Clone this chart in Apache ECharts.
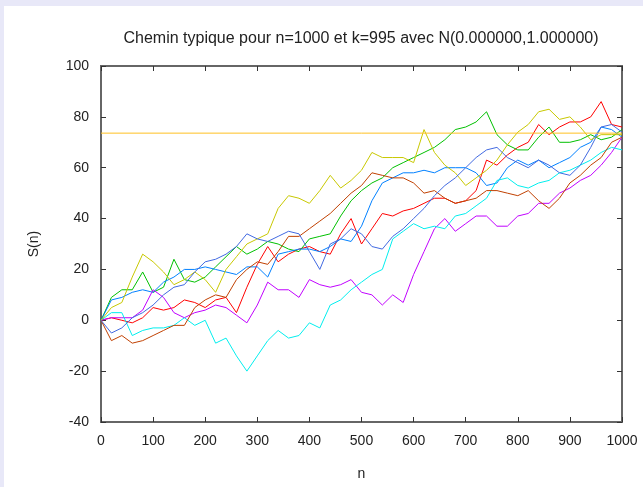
<!DOCTYPE html>
<html>
<head>
<meta charset="utf-8">
<script src="https://cdn.jsdelivr.net/npm/echarts@6/dist/echarts.min.js"></script>
<style>
  html, body { margin: 0; padding: 0; background: #e8e8f8; }
  #frame { position: absolute; left: 4px; top: 6px; width: 639px; height: 481px; background: #fff; }
  #chart { position: absolute; left: 0; top: 0; width: 643px; height: 487px; }
</style>
</head>
<body>
<div id="frame"></div>
<div id="chart"></div>
<script>
var steps = [];
for (var s = 0; s <= 1000; s += 20) steps.push(s);

var xTicks = [0, 100, 200, 300, 400, 500, 600, 700, 800, 900, 1000];
var yTicks = [-40, -20, 0, 20, 40, 60, 80, 100];

// S(n) every 20 steps
var redS = [0, 1, 0, -1, 1, 5, 4, 5, 8, 7, 5, 8, 9, 3, 13, 22, 29, 23, 26, 28, 29, 27, 26, 34, 40, 30, 36, 42, 41, 43, 44, 46, 48, 48, 46, 47, 51, 63, 61, 65, 68, 70, 77, 73, 76, 78, 78, 80, 86, 77, 76];
var greenS = [0, 9, 12, 12, 19, 11, 13, 24, 16, 15, 17, 21, 25, 29, 26, 28, 31, 30, 28, 27, 32, 33, 34, 41, 47, 51, 54, 56, 60, 62, 64, 66, 68, 71, 75, 76, 78, 82, 73, 69, 67, 67, 72, 76, 70, 70, 71, 73, 71, 72, 75];
var blueS = [0, 8, 9, 11, 12, 11, 15, 17, 20, 20, 21, 20, 19, 18, 21, 21, 17, 26, 27, 28, 28, 27, 29, 32, 31, 37, 47, 54, 56, 58, 58, 59, 58, 60, 60, 60, 58, 53, 54, 60, 63, 61, 63, 60, 62, 64, 68, 70, 76, 75, 72];
var purpleS = [0, 1, 1, 1, 4, 12, 9, 3, 1, 3, 4, 6, 5, 2, -1, 6, 15, 12, 12, 9, 16, 14, 13, 14, 16, 11, 10, 6, 10, 7, 18, 27, 36, 40, 35, 38, 41, 41, 37, 37, 41, 42, 46, 46, 50, 52, 55, 57, 61, 66, 72];
var cyanS = [0, 3, 3, -6, -4, -3, -3, -2, 1, -2, 0, -9, -7, -14, -20, -14, -8, -4, -7, -6, -1, -3, 6, 8, 12, 15, 18, 20, 32, 35, 38, 36, 37, 36, 41, 42, 45, 48, 55, 56, 53, 52, 54, 55, 58, 59, 61, 63, 66, 68, 67];
var brownS = [0, -8, -6, -9, -8, -6, -4, -2, -2, 5, 8, 10, 9, 16, 20, 23, 22, 27, 33, 33, 36, 39, 42, 46, 50, 53, 58, 57, 56, 56, 54, 50, 51, 48, 46, 47, 48, 51, 51, 50, 49, 51, 47, 44, 48, 54, 57, 61, 64, 70, 72];
var yellowS = [0, 5, 7, 17, 26, 23, 19, 14, 16, 19, 16, 11, 20, 25, 30, 32, 34, 44, 49, 48, 46, 51, 57, 52, 55, 59, 66, 64, 64, 64, 62, 75, 66, 61, 58, 53, 56, 59, 63, 69, 74, 77, 82, 83, 79, 80, 76, 71, 73, 73, 73];
var royalS = [0, -5, -3, 1, 3, 6, 10, 13, 14, 19, 23, 24, 26, 29, 34, 32, 31, 33, 35, 34, 27, 20, 30, 32, 36, 34, 29, 28, 33, 36, 40, 44, 49, 53, 56, 60, 64, 67, 68, 64, 62, 60, 63, 61, 58, 57, 61, 68, 76, 77, 74];
// the flat goldenrod line
var levelS = 73.6;

var pathNames = ['1', '2', '3', '4', '5', '6', '7', '8'];
var pathColors = ['#ff0000', '#00c000', '#0080ff', '#c000ff', '#00eeee', '#c04000', '#c8c800', '#4169e1'];
var pathValues = [redS, greenS, blueS, purpleS, cyanS, brownS, yellowS, royalS];

var xMin = xTicks[0], xMax = xTicks[xTicks.length - 1];
var yMin = yTicks[0], yMax = yTicks[yTicks.length - 1];

var chart = echarts.init(document.getElementById('chart'));

var series = pathValues.map(function (vals, k) {
  return {
    name: pathNames[k],
    type: 'line',
    showSymbol: false,
    xAxisIndex: 0,
    yAxisIndex: 0,
    data: steps.map(function (n, i) { return [n, vals[i]]; }),
    lineStyle: { color: pathColors[k], width: 1 },
    itemStyle: { color: pathColors[k] }
  };
});
// goldenrod level, put on the top/right axes so those get drawn
series.push({
  name: 'level',
  type: 'line',
  showSymbol: false,
  xAxisIndex: 1,
  yAxisIndex: 1,
  data: [[xMin, levelS], [xMax, levelS]],
  lineStyle: { color: '#ffc020', width: 1 },
  itemStyle: { color: '#ffc020' }
});

var frameLine = { show: true, onZero: false, lineStyle: { color: '#666', width: 2 } };
var frameTick = { show: true, inside: true, length: 5, lineStyle: { color: '#333', width: 1 } };

var option = {
  animation: false,
  title: {
    text: 'Chemin typique pour n=1000 et k=995 avec N(0.000000,1.000000)',
    left: 356,
    top: 26,
    textAlign: 'center',
    textStyle: { fontFamily: 'Liberation Sans', fontSize: 16, fontWeight: 'normal', color: '#222' }
  },
  grid: { left: 101, top: 66, right: 21, bottom: 65, show: true, borderColor: '#666', borderWidth: 2 },
  xAxis: [
    {
      type: 'value', position: 'bottom', min: xMin, max: xMax, interval: 100,
      name: 'n', nameLocation: 'middle', nameGap: 45,
      nameTextStyle: { fontFamily: 'Liberation Sans', fontSize: 14, color: '#222' },
      axisLine: frameLine, axisTick: frameTick, splitLine: { show: false },
      axisLabel: { margin: 12, fontFamily: 'Liberation Sans', fontSize: 14, color: '#222', formatter: function (v) { return String(v); } }
    },
    {
      type: 'value', position: 'top', min: xMin, max: xMax, interval: 100,
      axisLine: frameLine, axisTick: frameTick, splitLine: { show: false },
      axisLabel: { show: true, color: 'rgba(0,0,0,0)', fontSize: 1 }
    }
  ],
  yAxis: [
    {
      type: 'value', position: 'left', min: yMin, max: yMax, interval: 20,
      name: 'S(n)', nameLocation: 'middle', nameGap: 60, nameRotate: 90,
      nameTextStyle: { fontFamily: 'Liberation Sans', fontSize: 14, color: '#222' },
      axisLine: frameLine, axisTick: frameTick, splitLine: { show: false },
      axisLabel: { margin: 12, fontFamily: 'Liberation Sans', fontSize: 14, color: '#222' }
    },
    {
      type: 'value', position: 'right', min: yMin, max: yMax, interval: 20,
      axisLine: frameLine, axisTick: frameTick, splitLine: { show: false },
      axisLabel: { show: true, color: 'rgba(0,0,0,0)', fontSize: 1 }
    }
  ],
  series: series
};

chart.setOption(option);
</script>
</body>
</html>
